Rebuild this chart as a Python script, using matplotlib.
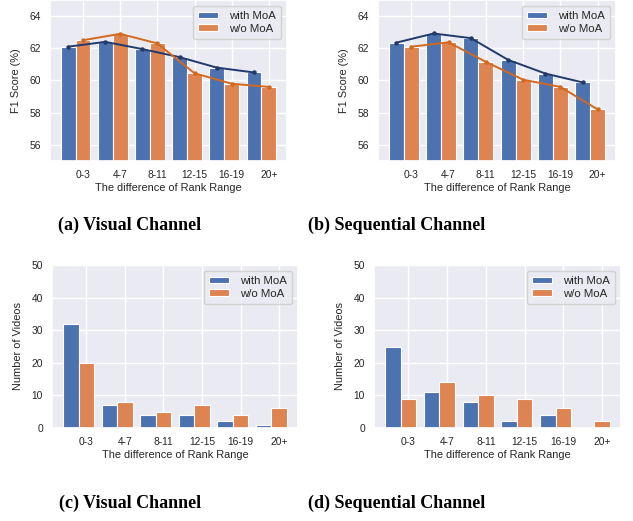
import numpy as np
import matplotlib
matplotlib.use("Agg")
import matplotlib.pyplot as plt
import seaborn as sns

sns.set_theme(style="darkgrid")
plt.rcParams['font.family'] = ['Liberation Sans', 'DejaVu Sans']

ranges = ["0-3", "4-7", "8-11", "12-15", "16-19", "20+"]

# F1 scores
f1_visual_with = [62.1, 62.4, 61.95, 61.45, 60.8, 60.5]
f1_visual_wo = [62.5, 62.9, 62.3, 60.45, 59.8, 59.6]
f1_seq_with = [62.35, 62.92, 62.63, 61.28, 60.43, 59.88]
f1_seq_wo = [62.1, 62.37, 61.16, 60.05, 59.6, 58.2]

# number of videos
n_visual_with = [32, 7, 4, 4, 2, 1]
n_visual_wo = [20, 8, 5, 7, 4, 6]
n_seq_with = [25, 11, 8, 2, 4, 0]
n_seq_wo = [9, 14, 10, 9, 6, 2]

blue = "#4C72B0"
orange = "#DD8452"
line_blue = "#223a6b"
line_orange = "#d2691e"

W, H = 633, 521
fig = plt.figure(figsize=(W / 100, H / 100), dpi=100)


def box(l, t, r, b):
    return [l / W, 1 - b / H, (r - l) / W, (b - t) / H]


def panel(rect, with_vals, wo_vals, ylabel, ylim, yticks, lines):
    ax = fig.add_axes(rect)
    x = np.arange(len(ranges))
    width = 0.4
    ax.bar(x, with_vals, width, color=blue, edgecolor="white", linewidth=0.8, label="with MoA")
    ax.bar(x + width, wo_vals, width, color=orange, edgecolor="white", linewidth=0.8, label="w/o MoA")
    if lines:
        ax.plot(x, with_vals, color=line_blue, marker="o", markersize=2.2, linewidth=1.4)
        ax.plot(x + width, wo_vals, color=line_orange, marker="o", markersize=2.2, linewidth=1.4)
    ax.set_xticks(x + width)
    ax.set_xticklabels(ranges)
    ax.set_ylim(*ylim)
    ax.set_yticks(yticks)
    ax.tick_params(length=0, pad=6.5, labelsize=7.4, colors="#262626")
    ax.set_xlabel("The difference of Rank Range", fontsize=7.9, labelpad=2, color="#262626")
    ax.set_ylabel(ylabel, fontsize=7.9, labelpad=6, color="#262626")
    ax.legend(loc="upper right", fontsize=8.2, labelspacing=0.25, handlelength=1.75,
              handleheight=0.5, borderpad=0.45, handletextpad=1.0)
    return ax


panel(box(50, 0, 287, 161), f1_visual_with, f1_visual_wo, "F1 Score (%)", (55, 65), [56, 58, 60, 62, 64], True)
panel(box(378, 0, 616, 161), f1_seq_with, f1_seq_wo, "F1 Score (%)", (55, 65), [56, 58, 60, 62, 64], True)
panel(box(52, 265, 298, 428), n_visual_with, n_visual_wo, "Number of Videos", (0, 50), [0, 10, 20, 30, 40, 50], False)
panel(box(374, 265, 621, 428), n_seq_with, n_seq_wo, "Number of Videos", (0, 50), [0, 10, 20, 30, 40, 50], False)

cap = dict(fontsize=13, fontweight="bold", family="Liberation Serif", ha="center", va="center", color="black")
fig.text(130 / W, 1 - 225 / H, "(a) Visual Channel", **cap)
fig.text(397 / W, 1 - 225 / H, "(b) Sequential Channel", **cap)
fig.text(130 / W, 1 - 503 / H, "(c) Visual Channel", **cap)
fig.text(397 / W, 1 - 503 / H, "(d) Sequential Channel", **cap)

fig.savefig("out.png", dpi=100)
